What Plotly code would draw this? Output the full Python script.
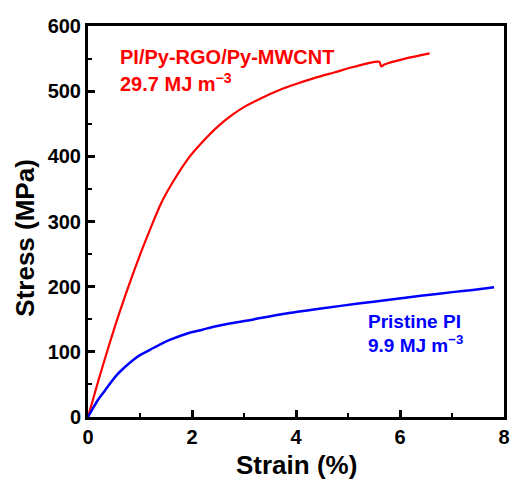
import plotly.graph_objects as go

# Red: PI/Py-RGO/Py-MWCNT
red_strain = [0, 0.2, 0.4, 0.6, 0.83, 1.05, 1.21, 1.4, 1.62, 1.93, 2.2, 2.5, 2.8, 3.03,
              3.35, 3.66, 4.0, 4.35, 4.75, 5.1, 5.6, 5.64, 5.7, 6.1, 6.57]
red_stress = [0, 56, 109, 159, 212, 259, 291, 327, 359, 397, 422, 446, 465, 477,
              490, 501, 511, 520, 529, 537, 545, 538, 541, 550, 558]

# Blue: Pristine PI
blue_strain = [0, 0.1, 0.19, 0.3, 0.41, 0.56, 0.7, 0.875, 1.0, 1.19, 1.4, 1.56, 1.94, 2.2,
               2.44, 2.75, 3.13, 3.26, 3.9, 4.52, 5.2, 5.79, 6.4, 7.05, 7.4, 7.81]
blue_stress = [0, 14, 26, 38, 50, 65, 76, 88, 95, 103, 112, 118, 129, 134,
               139, 144, 149, 151, 160, 167, 174, 180, 186, 192, 195, 199]

x_ticks = [0, 2, 4, 6, 8]
y_ticks = [0, 100, 200, 300, 400, 500, 600]

FONT = "Liberation Sans"

fig = go.Figure()
fig.add_trace(go.Scatter(x=red_strain, y=red_stress, mode="lines",
                         line=dict(color="#ff0000", width=2.2, shape="spline", smoothing=0.8),
                         showlegend=False))
fig.add_trace(go.Scatter(x=blue_strain, y=blue_stress, mode="lines",
                         line=dict(color="#0000ff", width=2.5, shape="spline", smoothing=0.8),
                         showlegend=False))

axis_common = dict(
    showgrid=False, zeroline=False, showline=True, linecolor="black", linewidth=3,
    mirror=True, ticks="inside", ticklen=7, tickwidth=2.5, tickcolor="black",
    tickfont=dict(family=FONT, size=20, color="black", weight="bold"),
)

fig.update_xaxes(range=[0, 8], tickvals=x_ticks, ticktext=[str(v) for v in x_ticks],
                 minor=dict(ticks="inside", ticklen=4, tickwidth=2, tickcolor="black", dtick=1),
                 **axis_common)
fig.update_yaxes(range=[0, 600], tickvals=y_ticks, ticktext=[str(v) for v in y_ticks],
                 minor=dict(ticks="inside", ticklen=4, tickwidth=2, tickcolor="black", dtick=50),
                 **axis_common)

ann_font_red = dict(family=FONT, size=20, color="#ff0000", weight="bold")
ann_font_blue = dict(family=FONT, size=19, color="#0000ff", weight="bold")

annotations = [
    dict(x=0.57, y=552, xref="x", yref="y", text="PI/Py-RGO/Py-MWCNT", showarrow=False,
         xanchor="left", yanchor="middle", font=ann_font_red),
    dict(x=0.57, y=514, xref="x", yref="y", text="29.7 MJ m<sup>\u22123</sup>", showarrow=False,
         xanchor="left", yanchor="middle", font=ann_font_red),
    dict(x=5.35, y=147, xref="x", yref="y", text="Pristine PI", showarrow=False,
         xanchor="left", yanchor="middle", font=ann_font_blue),
    dict(x=5.35, y=112, xref="x", yref="y", text="9.9 MJ m<sup>\u22123</sup>", showarrow=False,
         xanchor="left", yanchor="middle", font=ann_font_blue),
    dict(x=-0.152, y=0.458, xref="paper", yref="paper", text="Stress (MPa)", showarrow=False,
         textangle=-90, xanchor="center", yanchor="middle",
         font=dict(family=FONT, size=26, color="black", weight="bold")),
    dict(x=0.5, y=-0.123, xref="paper", yref="paper", text="Strain (%)", showarrow=False,
         xanchor="center", yanchor="middle",
         font=dict(family=FONT, size=26, color="black", weight="bold")),
]

fig.update_layout(
    width=518, height=480,
    margin=dict(l=88, r=8, t=26, b=63),
    plot_bgcolor="white", paper_bgcolor="white",
    annotations=annotations,
)

fig.write_html("out.html", config={"displayModeBar": False},
               post_script="document.body.style.margin='0';")
